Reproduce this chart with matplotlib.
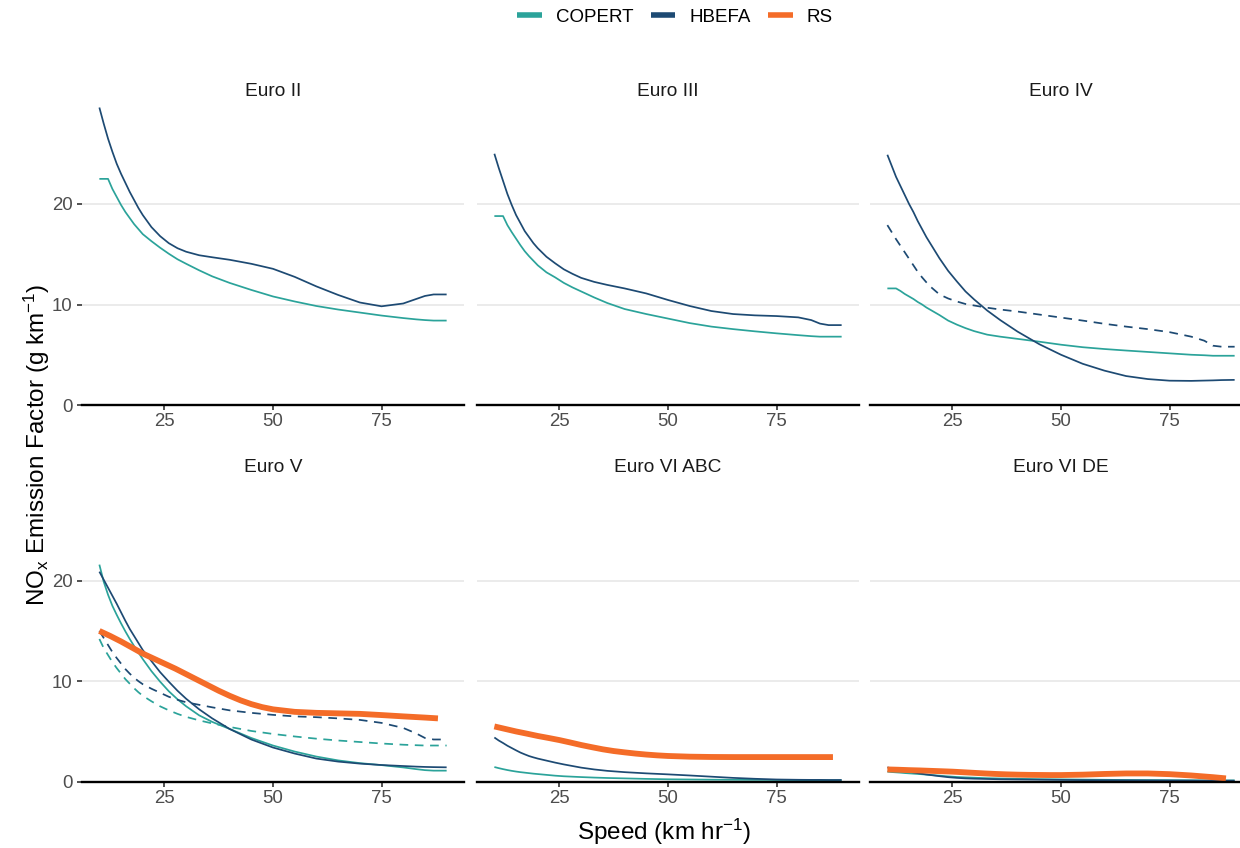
import matplotlib
matplotlib.use("Agg")
import matplotlib.pyplot as plt
from matplotlib.lines import Line2D

plt.rcParams['font.family'] = ['Liberation Sans', 'DejaVu Sans']
plt.rcParams['mathtext.default'] = 'regular'

# ---- data -------------------------------------------------------------
PANELS = ["Euro II", "Euro III", "Euro IV", "Euro V", "Euro VI ABC", "Euro VI DE"]

SPEED = [10, 11, 12, 13, 14, 15, 16, 17, 18, 19, 20, 22, 24, 26, 28, 30, 33, 36, 40, 45,
         50, 55, 60, 65, 70, 75, 80, 83, 85, 87, 90]
RS_SPEED = [10, 12.5, 15, 17.5, 20, 22.5, 25, 27.5, 30, 32.5, 35, 37.5, 40, 42.5, 45, 47.5,
            50, 55, 60, 65, 70, 75, 80, 85, 88]

euro2_copert = [22.5, 22.5, 22.5, 21.5, 20.7, 19.9, 19.2, 18.6, 18.0, 17.5, 17.0, 16.3, 15.65, 15.05,
                14.5, 14.05, 13.4, 12.8, 12.15, 11.45, 10.8, 10.3, 9.85, 9.5, 9.2, 8.9, 8.65, 8.52,
                8.45, 8.4, 8.4]
euro2_hbefa = [29.6, 28.0, 26.5, 25.2, 24.0, 23.0, 22.1, 21.2, 20.4, 19.6, 18.9, 17.7, 16.8, 16.1,
               15.6, 15.25, 14.9, 14.7, 14.45, 14.05, 13.55, 12.75, 11.8, 10.95, 10.2, 9.82, 10.1,
               10.55, 10.85, 11.0, 11.0]

euro3_copert = [18.8, 18.8, 18.8, 17.9, 17.2, 16.55, 15.9, 15.3, 14.8, 14.35, 13.9, 13.2, 12.7, 12.15,
                11.7, 11.3, 10.7, 10.15, 9.55, 9.05, 8.6, 8.15, 7.8, 7.55, 7.33, 7.13, 6.95, 6.85,
                6.8, 6.8, 6.8]
euro3_hbefa = [25.0, 23.6, 22.3, 21.0, 19.9, 18.9, 18.1, 17.3, 16.7, 16.1, 15.6, 14.75, 14.1, 13.5,
               13.05, 12.65, 12.25, 11.95, 11.6, 11.1, 10.45, 9.85, 9.35, 9.05, 8.92, 8.85, 8.72,
               8.45, 8.1, 7.95, 7.95]

euro4_copert = [11.6, 11.6, 11.6, 11.35, 11.05, 10.8, 10.55, 10.25, 10.0, 9.7, 9.45, 8.95, 8.4, 8.0,
                7.65, 7.35, 7.0, 6.8, 6.58, 6.3, 6.0, 5.75, 5.57, 5.42, 5.28, 5.14, 5.0, 4.95,
                4.9, 4.9, 4.9]
euro4_hbefa = [24.9, 23.8, 22.7, 21.8, 20.9, 20.0, 19.2, 18.3, 17.5, 16.7, 16.0, 14.6, 13.35, 12.3,
               11.3, 10.5, 9.4, 8.45, 7.3, 6.05, 5.0, 4.1, 3.42, 2.88, 2.58, 2.42, 2.4, 2.43,
               2.45, 2.48, 2.5]
euro4_hbefa_alt = [17.9, 17.2, 16.5, 15.85, 15.2, 14.55, 13.9, 13.25, 12.7, 12.2, 11.75, 11.0, 10.6,
                   10.3, 10.05, 9.9, 9.68, 9.5, 9.3, 9.0, 8.7, 8.4, 8.08, 7.8, 7.55, 7.25, 6.8,
                   6.4, 5.9, 5.8, 5.8]

euro5_copert = [21.6, 19.9, 18.6, 17.5, 16.6, 15.75, 14.95, 14.2, 13.5, 12.85, 12.2, 11.0, 9.95, 9.0,
                8.2, 7.5, 6.6, 5.95, 5.25, 4.35, 3.6, 3.0, 2.5, 2.12, 1.85, 1.65, 1.42, 1.25,
                1.15, 1.1, 1.1]
euro5_copert_alt = [14.2, 13.3, 12.6, 11.9, 11.3, 10.75, 10.2, 9.75, 9.3, 8.9, 8.55, 8.0, 7.5, 7.1,
                    6.75, 6.45, 6.1, 5.8, 5.45, 5.05, 4.75, 4.5, 4.28, 4.1, 3.95, 3.8, 3.68, 3.63,
                    3.6, 3.6, 3.6]
euro5_hbefa = [20.9, 20.1, 19.3, 18.5, 17.7, 16.85, 16.0, 15.2, 14.5, 13.8, 13.1, 12.0, 10.9, 9.95,
               9.05, 8.25, 7.2, 6.3, 5.25, 4.2, 3.4, 2.8, 2.3, 2.0, 1.8, 1.66, 1.56, 1.5,
               1.47, 1.45, 1.43]
euro5_hbefa_alt = [15.0, 14.3, 13.6, 12.9, 12.3, 11.75, 11.2, 10.75, 10.35, 10.0, 9.7, 9.25, 8.85,
                   8.45, 8.15, 7.9, 7.65, 7.4, 7.1, 6.85, 6.65, 6.5, 6.42, 6.3, 6.15, 5.85, 5.35,
                   4.8, 4.35, 4.2, 4.2]
euro5_rs = [15.0, 14.5, 13.95, 13.35, 12.75, 12.25, 11.75, 11.25, 10.7, 10.15, 9.6, 9.05, 8.55,
            8.1, 7.72, 7.42, 7.2, 6.95, 6.85, 6.8, 6.75, 6.63, 6.5, 6.38, 6.3]

euro6abc_copert = [1.46, 1.35, 1.25, 1.16, 1.08, 1.01, 0.95, 0.9, 0.85, 0.8, 0.76, 0.68, 0.6, 0.54,
                   0.5, 0.46, 0.41, 0.37, 0.33, 0.28, 0.24, 0.22, 0.2, 0.19, 0.18, 0.17, 0.16, 0.15,
                   0.15, 0.14, 0.14]
euro6abc_hbefa = [4.4, 4.1, 3.85, 3.58, 3.35, 3.12, 2.9, 2.72, 2.55, 2.42, 2.3, 2.1, 1.9, 1.72,
                  1.56, 1.4, 1.22, 1.08, 0.95, 0.83, 0.73, 0.62, 0.5, 0.38, 0.29, 0.22, 0.19, 0.18,
                  0.18, 0.17, 0.17]
euro6abc_rs = [5.5, 5.25, 5.0, 4.78, 4.55, 4.35, 4.14, 3.9, 3.65, 3.43, 3.22, 3.05, 2.92, 2.8, 2.7,
               2.62, 2.56, 2.49, 2.46, 2.45, 2.45, 2.45, 2.45, 2.45, 2.45]

euro6de_copert = [1.0, 0.96, 0.93, 0.9, 0.86, 0.83, 0.8, 0.77, 0.74, 0.7, 0.67, 0.6, 0.53, 0.47,
                  0.43, 0.4, 0.35, 0.32, 0.29, 0.25, 0.23, 0.21, 0.19, 0.17, 0.16, 0.15, 0.14, 0.13,
                  0.13, 0.13, 0.13]
euro6de_hbefa = [1.42, 1.33, 1.25, 1.16, 1.08, 1.0, 0.92, 0.85, 0.78, 0.72, 0.66, 0.55, 0.45, 0.38,
                 0.33, 0.3, 0.27, 0.24, 0.22, 0.2, 0.18, 0.16, 0.15, 0.14, 0.13, 0.12, 0.11, 0.1,
                 0.1, 0.1, 0.1]
euro6de_rs = [1.22, 1.19, 1.15, 1.12, 1.08, 1.04, 1.0, 0.94, 0.88, 0.82, 0.77, 0.73, 0.7, 0.68, 0.67,
              0.66, 0.66, 0.7, 0.77, 0.82, 0.82, 0.75, 0.62, 0.45, 0.33]

SOURCES = ["COPERT", "HBEFA", "RS"]
COLORS = {"COPERT": "#2BA39A", "HBEFA": "#1D4A73", "RS": "#F46C28"}
X_TICKS = [25, 50, 75]
Y_TICKS = [0, 10, 20]

# (values, source, dashed?) per panel, drawn in this order
panel_series = {
    "Euro II": [(euro2_copert, "COPERT", False), (euro2_hbefa, "HBEFA", False)],
    "Euro III": [(euro3_copert, "COPERT", False), (euro3_hbefa, "HBEFA", False)],
    "Euro IV": [(euro4_copert, "COPERT", False), (euro4_hbefa, "HBEFA", False),
                (euro4_hbefa_alt, "HBEFA", True)],
    "Euro V": [(euro5_copert, "COPERT", False), (euro5_copert_alt, "COPERT", True),
               (euro5_hbefa, "HBEFA", False), (euro5_hbefa_alt, "HBEFA", True),
               (euro5_rs, "RS", False)],
    "Euro VI ABC": [(euro6abc_copert, "COPERT", False), (euro6abc_hbefa, "HBEFA", False),
                    (euro6abc_rs, "RS", False)],
    "Euro VI DE": [(euro6de_copert, "COPERT", False), (euro6de_hbefa, "HBEFA", False),
                   (euro6de_rs, "RS", False)],
}

# ---- layout (pixel based) ---------------------------------------------
W, H = 1240, 848
fig = plt.figure(figsize=(W / 100, H / 100), dpi=100)
fig.patch.set_facecolor("white")

col_left = [82, 477, 870]
row_bottom = [405, 781.7]
panel_w, panel_h = 382, 306
px_per_unit = 10.05

for i, name in enumerate(PANELS):
    r, c = divmod(i, 3)
    left, bottom = col_left[c], row_bottom[r]
    ax = fig.add_axes([left / W, 1 - bottom / H, panel_w / W, panel_h / H])
    ax.set_xlim(6, 94)
    ax.set_ylim(0, panel_h / px_per_unit)

    for vals, src, dashed in panel_series[name]:
        xs = RS_SPEED if src == "RS" else SPEED
        lw = 4.2 if src == "RS" else 1.25
        line, = ax.plot(xs, vals, color=COLORS[src], lw=lw,
                        solid_capstyle="butt", solid_joinstyle="round", zorder=3)
        if dashed:
            line.set_dashes((5, 3.8))

    for s in ["top", "right", "left"]:
        ax.spines[s].set_visible(False)
    ax.spines["bottom"].set_linewidth(1.7)
    ax.spines["bottom"].set_color("black")
    ax.spines["bottom"].set_zorder(4)

    ax.set_xticks(X_TICKS)
    ax.set_yticks(Y_TICKS)
    ax.grid(axis="y", color="#EBEBEB", lw=1.4, zorder=0)
    ax.grid(axis="x", visible=False)
    ax.set_axisbelow(True)
    ax.tick_params(axis="x", direction="out", length=3.6, width=1.2, color="#333333",
                   labelsize=13.4, labelcolor="#4D4D4D", pad=2.5)
    if c == 0:
        ax.tick_params(axis="y", direction="out", length=3.6, width=1.2, color="#333333",
                       labelsize=13.4, labelcolor="#4D4D4D", pad=3)
    else:
        ax.tick_params(axis="y", length=0, labelleft=False)

    # facet strip title
    fig.text((left + panel_w / 2) / W, 1 - (bottom - panel_h - 3.4) / H, name,
             ha="center", va="baseline", fontsize=13.8, color="#1A1A1A")

# axis titles
fig.text(663.7 / W, 1 - 840 / H, r"Speed (km hr$^{-1}$)", ha="center", va="baseline",
         fontsize=17.5, color="black")
fig.text(45 / W, 1 - 445 / H, r"NO$_x$ Emission Factor (g km$^{-1}$)", rotation=90,
         rotation_mode="anchor", ha="center", va="baseline", fontsize=17.5, color="black")

# legend
handles = [Line2D([0], [0], color=COLORS[s], lw=4, solid_capstyle="butt") for s in SOURCES]
fig.legend(handles, SOURCES, loc="center", bbox_to_anchor=(675 / W, 1 - 17 / H),
           ncol=3, frameon=False, fontsize=13.5, handlelength=1.33, handletextpad=0.75,
           columnspacing=0.9, borderpad=0, borderaxespad=0)

fig.savefig("out.png", dpi=100, facecolor="white")
